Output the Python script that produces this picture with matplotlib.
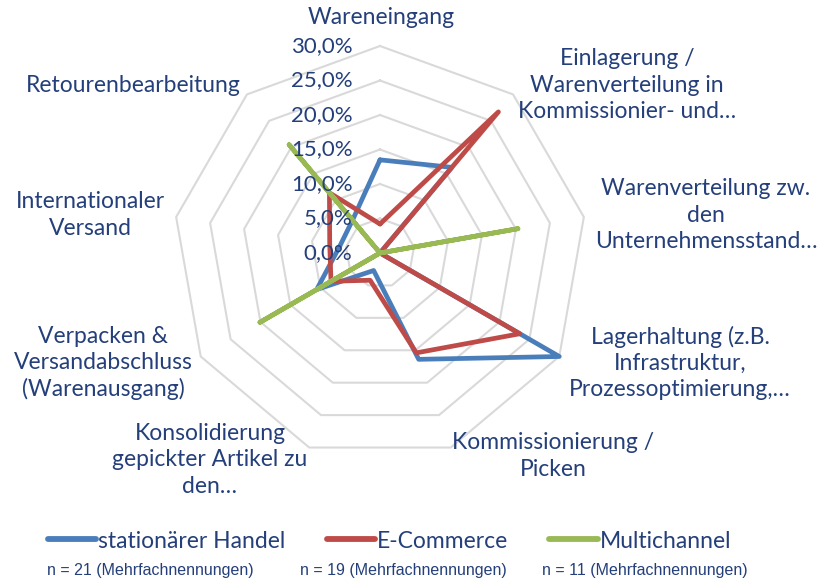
import numpy as np
import matplotlib
matplotlib.use("Agg")
import matplotlib.pyplot as plt
from matplotlib.lines import Line2D

# Prozessbereiche (im Uhrzeigersinn ab oben)
categories = [
    "Wareneingang",
    "Einlagerung /\nWarenverteilung in\nKommissionier- und…",
    "Warenverteilung zw.\nden\nUnternehmensstand…",
    "Lagerhaltung (z.B.\nInfrastruktur,\nProzessoptimierung,…",
    "Kommissionierung /\nPicken",
    "Konsolidierung\ngepickter Artikel zu\nden…",
    "Verpacken &\nVersandabschluss\n(Warenausgang)",
    "Internationaler\nVersand",
    "Retourenbearbeitung",
]

# Anteile in Prozent
stationaer = [13.5, 16.2, 0.0, 30.0, 16.4, 2.7, 10.6, 5.9, 6.2]
ecommerce = [4.2, 26.7, 0.0, 23.4, 15.4, 4.2, 8.2, 7.4, 11.4]
multichannel = [0.0, 0.0, 20.3, 0.0, 0.0, 0.0, 20.1, 0.0, 20.5]

series_names = ["stationärer Handel", "E-Commerce", "Multichannel"]
sample_notes = ["n = 21 (Mehrfachnennungen)", "n = 19 (Mehrfachnennungen)",
                "n = 11 (Mehrfachnennungen)"]
ring_levels = [5, 10, 15, 20, 25, 30]
tick_levels = [0, 5, 10, 15, 20, 25, 30]

colors = ["#4A7EBB", "#BE4B48", "#98B954"]
text_color = "#243F7A"
grid_color = "#D9D9D9"
font = "Lato"

W, H = 820, 584
fig = plt.figure(figsize=(W / 100, H / 100), dpi=100)
ax = fig.add_axes([0, 0, 1, 1])

# pixel geometry of the web: centre and scale (px per percent)
cx, cy, s = 380.0, 253.0, 6.9
xmin = -cx / s
ymin = -(H - cy) / s
ax.set_xlim(xmin, xmin + W / s)
ax.set_ylim(ymin, ymin + H / s)
ax.axis("off")

n = len(categories)
theta = np.arange(n) * 2 * np.pi / n


def to_xy(vals):
    v = np.asarray(vals, dtype=float)
    v = np.append(v, v[0])
    t = np.append(theta, theta[0])
    return v * np.sin(t), v * np.cos(t)


# nonagon rings
for lv in ring_levels:
    x, y = to_xy([lv] * n)
    ax.plot(x, y, color=grid_color, lw=1.5, zorder=1)

# data series
for vals, c, name in zip([stationaer, ecommerce, multichannel], colors, series_names):
    x, y = to_xy(vals)
    ax.plot(x, y, color=c, lw=3.4, solid_joinstyle="round",
            solid_capstyle="round", zorder=3, label=name)

# value axis labels along the top spoke
for lv in tick_levels:
    ax.text(-4.0, lv, f"{lv:.1f}%".replace(".", ","), ha="right", va="center",
            fontsize=16, color=text_color, family=font, zorder=4)

# category labels (pixel centres)
label_pos = [(381, 18), (627, 85), (706, 215), (680, 363), (553, 456),
             (210, 460), (103, 363), (90, 215), (133, 86)]
for lab, (px, py) in zip(categories, label_pos):
    ax.text((px - cx) / s, (cy - py) / s, lab, ha="center", va="center",
            fontsize=16.5, color=text_color, family=font, linespacing=1.3)

# legend
handles = [Line2D([0], [0], color=c, lw=4.2, solid_capstyle="round") for c in colors]
leg = fig.legend(handles, series_names, loc="center", bbox_to_anchor=(0.475, 1 - 541 / H),
                 ncol=3, frameon=False, handlelength=2.1, handletextpad=0.1,
                 columnspacing=1.8, prop={"family": font, "size": 16.5})
for t in leg.get_texts():
    t.set_color(text_color)

note_x = [150, 403, 645]
for nx, note in zip(note_x, sample_notes):
    fig.text(nx / W, 1 - 570 / H, note, ha="center", va="center", fontsize=11.5,
             color=text_color, family="Liberation Sans")

fig.savefig("out.png", dpi=100)
